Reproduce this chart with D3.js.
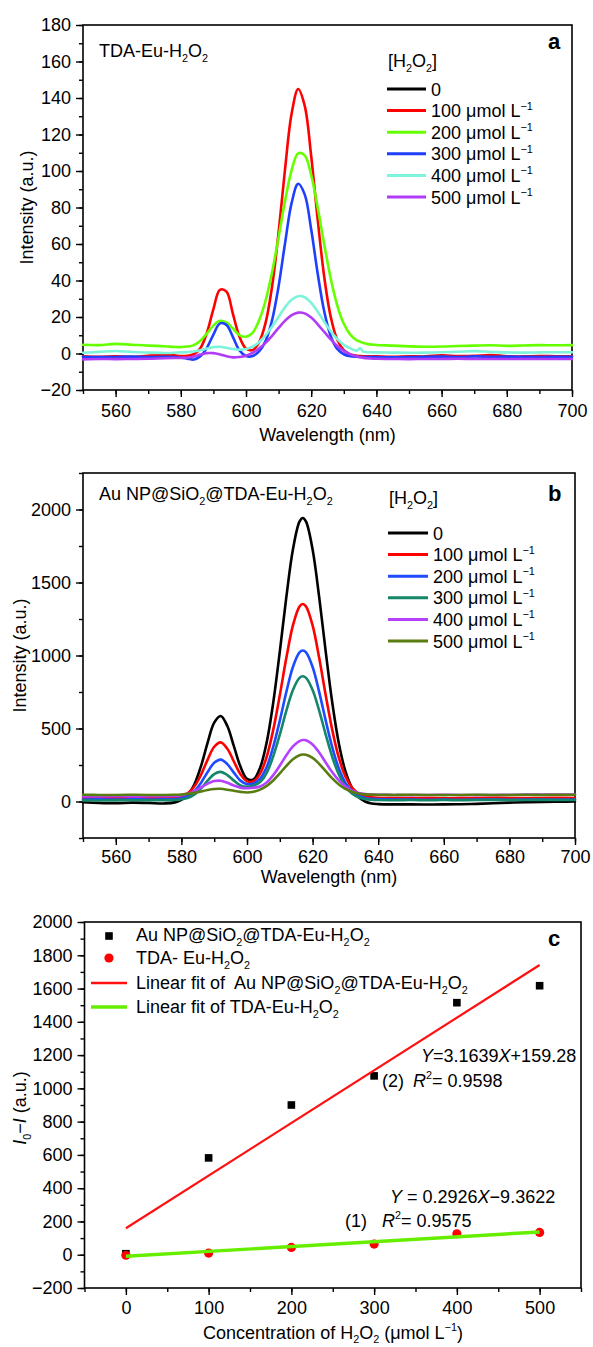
<!DOCTYPE html>
<html>
<head>
<meta charset="utf-8">
<script src="https://cdn.jsdelivr.net/npm/d3@7"></script>
<style>
  html, body { margin: 0; padding: 0; background: #fff; }
  svg { display: block; }
  text { font-family: "Liberation Sans", Arial, Helvetica, sans-serif; fill: #000; white-space: pre; }
</style>
</head>
<body>
<svg id="fig" width="593" height="1347"></svg>
<script>
// ---------- Panel a: TDA-Eu-H2O2 emission spectra ----------
const waveA = [550,555,560,565,570,575,578,580,582,584,586,588,590,592,594,596,598,600,602,604,606,608,610,612,614,616,618,620,622,624,626,628,630,632,634,635,636,638,640,645,650,655,660,665,670,675,680,685,690,695,700];
const a100 = [-1.5,-1.8,-1.5,-1.8,-1.2,-0.8,-1.0,-1.4,-1.3,-0.4,2.9,11.3,24.3,34.9,33.9,21.6,9.2,2.7,1.85,6.1,16.8,36.7,66.4,101.4,131.5,144.9,135.8,108.2,73.3,41.9,20.0,7.5,1.8,-0.5,-1.2,-1.4,-1.5,-1.6,-1.6,-1.8,-1.5,-1.6,-1.0,-1.4,-1.3,-0.8,-1.5,-1.6,-1.4,-1.5,-1.5];
const a200 = [4.8,4.6,5.3,4.8,4.3,4.0,3.6,3.5,3.8,4.6,7.0,10.9,15.3,17.9,17.0,13.7,10.1,9.2,11.3,18.1,28.9,44.5,63.7,83.8,100.5,109.7,108.6,97.7,79.9,59.7,41.0,26.3,16.3,10.3,7.2,6.5,5.8,5.0,4.7,4.3,3.9,3.7,3.8,4.1,4.3,4.5,4.2,4.4,4.6,4.5,4.6];
const a300 = [-1.8,-2.0,-1.9,-1.7,-2.0,-1.8,-2.0,-2.3,-2.8,-3.3,-1.5,3.1,10.4,16.5,15.7,9.0,1.7,-1.4,-1.4,1.2,6.8,18.2,36.9,60.7,82.5,93.0,87.2,67.9,43.7,23.0,9.5,2.5,-0.4,-1.5,-1.8,-1.9,-1.9,-2.0,-2.0,-2.1,-2.0,-1.8,-1.7,-1.9,-1.6,-1.8,-1.7,-1.8,-1.9,-1.8,-1.8];
const a400 = [0.4,0.9,1.4,0.8,0.5,0.3,0.4,0.6,0.7,1.05,1.75,2.7,3.5,3.7,3.1,2.5,2.1,2.5,3.7,6.2,9.9,14.7,20.1,25.4,29.5,31.4,30.8,27.7,22.9,17.4,12.2,7.9,4.8,2.8,1.6,2.8,1.0,0.7,0.6,0.5,0.4,0.5,0.7,1.0,1.3,0.9,0.6,0.5,0.6,0.7,0.7];
const a500 = [-3.2,-3.0,-3.1,-3.0,-2.9,-2.6,-2.5,-2.4,-2.2,-1.6,-0.6,0.2,0.2,-0.5,-1.5,-2.1,-1.9,-1.2,0.3,2.7,5.8,9.7,14.0,18.0,21.0,22.4,22.0,19.7,16.0,11.8,7.7,4.1,1.4,-0.5,-1.7,-2.1,-2.4,-2.7,-2.9,-3.0,-3.1,-3.0,-3.0,-2.9,-3.0,-3.0,-3.0,-3.0,-3.0,-3.0,-3.0];

// ---------- Panel b: Au NP@SiO2@TDA-Eu-H2O2 emission spectra ----------
const waveB = [550,555,560,565,570,575,578,580,582,584,586,588,590,592,594,596,598,600,602,604,606,608,610,612,614,616,617,618,620,622,624,626,628,630,632,634,636,638,640,645,650,655,660,665,670,675,680,685,690,695,700];
const b0   = [-5,-10,-12,-8,-10,-13,-6,11,47,120,244,403,540,586,517,379,239,155,151,232,405,677,1026,1401,1726,1917,1942,1917,1726,1401,1026,676,398,208,94,30,0,-14,-18,-20,-20,-21,-20,-19,-16,-12,-8,-5,-3,-1,0];
const b100 = [24,22,25,26,24,25,28,36,57,104,184,287,375,405,361,274,187,138,139,191,306,491,728,984,1206,1336,1353,1336,1206,984,728,489,300,172,96,56,37,29,26,24,23,24,22,23,24,25,24,23,24,25,24];
const b200 = [14,15,13,15,14,15,17,23,38,72,129,202,265,287,256,198,143,119,124,156,236,375,554,751,921,1021,1034,1021,921,751,554,371,226,128,70,39,24,18,16,14,13,12,13,12,13,14,12,13,14,13,13];
const b300 = [8,7,8,9,8,9,10,15,25,49,90,143,188,203,181,143,110,101,110,133,196,310,458,622,764,847,858,847,764,622,458,305,185,103,55,29,17,12,10,9,10,9,10,9,10,11,10,10,11,10,10];
const b400 = [34,35,36,35,36,37,38,43,54,72,97,122,140,142,128,110,95,91,94,103,131,181,246,317,378,414,421,419,391,336,267,200,144,102,75,59,51,47,46,45,44,45,46,45,44,45,46,47,48,48,48];
const b500 = [46,45,45,46,45,45,46,48,52,59,69,79,86,87,81,73,66,62,67,81,107,144,192,244,289,317,322,320,299,258,208,158,117,86,67,55,49,47,46,45,46,45,44,45,46,45,45,46,45,46,46];

// ---------- Panel c: I0 - I versus H2O2 concentration ----------
const concC = [0, 100, 200, 300, 400, 500];
const auNP  = [6, 582, 900, 1075, 1515, 1617];
const tdaEu = [-3, 10, 44, 64, 126, 134];
const fitAu  = [3.1639, 159.28];   // slope, intercept
const fitTda = [0.2926, -9.3622];

// ---------- labels ----------
const concLabels = ["0", "100 μmol L^{−1}", "200 μmol L^{−1}", "300 μmol L^{−1}", "400 μmol L^{−1}", "500 μmol L^{−1}"];
const colorsA = ["#000000", "#ff0000", "#66ff00", "#1f3fff", "#7df3db", "#b13cf5"];
const colorsB = ["#000000", "#ff0000", "#1e4bff", "#14866a", "#b540ff", "#5a7d12"];
const waveTicks = [560, 580, 600, 620, 640, 660, 680, 700];
const yTicksA = [-20, 0, 20, 40, 60, 80, 100, 120, 140, 160, 180];
const yTicksB = [0, 500, 1000, 1500, 2000];
const xTicksC = [0, 100, 200, 300, 400, 500];
const yTicksC = [-200, 0, 200, 400, 600, 800, 1000, 1200, 1400, 1600, 1800, 2000];

const svg = d3.select("#fig");
const FS = 18;

// Text with _{sub}, ^{sup} and *italic* markup, built from tspans
function richText(g, x, y, str, o = {}) {
  const fs = o.size || FS;
  const t = g.append("text").attr("x", x).attr("y", y).attr("font-size", fs);
  if (o.anchor) t.attr("text-anchor", o.anchor);
  if (o.weight) t.attr("font-weight", o.weight);
  const subShift = o.subShift != null ? o.subShift : 0.3;
  const re = /(_\{[^}]*\}|\^\{[^}]*\}|\*[^*]*\*)/g;
  let shift = 0;
  str.split(re).filter(s => s && s.length).forEach(s => {
    let txt = s, dy = 0, size = null, italic = false;
    if (s.startsWith("_{")) { txt = s.slice(2, -1); dy = fs * subShift; size = fs * 0.6; }
    else if (s.startsWith("^{")) { txt = s.slice(2, -1); dy = -fs * 0.42; size = fs * 0.6; }
    else if (s.startsWith("*")) { txt = s.slice(1, -1); italic = true; }
    const ts = t.append("tspan").text(txt).attr("dy", dy - shift);
    shift = dy;
    if (size) ts.attr("font-size", size);
    if (italic) ts.attr("font-style", "italic");
  });
  return t;
}

function rotatedLabel(cx, cy, str) {
  const g = svg.append("g").attr("transform", `translate(${cx},${cy}) rotate(-90)`);
  richText(g, 0, 6.5, str, { anchor: "middle" });
}

// Axes with outward major + minor ticks and a closed frame
function frame(x, y, opt) {
  const g = svg.append("g");
  const [x0, x1] = x.range(), [y0, y1] = y.range();
  g.append("g").attr("transform", `translate(0,${y0})`)
    .call(d3.axisBottom(x).tickValues(opt.xTicks).tickSize(7).tickPadding(opt.xPad)
      .tickFormat(d3.format("d")));
  g.append("g").attr("transform", `translate(0,${y0})`)
    .call(d3.axisBottom(x).tickValues(opt.xMinor).tickSize(4).tickFormat(""));
  g.append("g").attr("transform", `translate(${x0},0)`)
    .call(d3.axisLeft(y).tickValues(opt.yTicks).tickSize(7).tickPadding(5)
      .tickFormat(d3.format("d")));
  g.append("g").attr("transform", `translate(${x0},0)`)
    .call(d3.axisLeft(y).tickValues(opt.yMinor).tickSize(4).tickFormat(""));
  g.selectAll(".domain").remove();
  g.selectAll(".tick line").attr("stroke", "#000").attr("stroke-width", 1.4);
  g.selectAll(".tick text").attr("font-size", FS)
    .attr("font-family", '"Liberation Sans", Arial, sans-serif').attr("fill", "#000");
  g.append("rect").attr("x", x0).attr("y", y1).attr("width", x1 - x0).attr("height", y0 - y1)
    .attr("fill", "none").attr("stroke", "#000").attr("stroke-width", 1.6);
  return g;
}

function spectra(x, y, wave, series, colors, width) {
  const line = d3.line().x((d, i) => x(wave[i])).y(d => y(d)).curve(d3.curveCatmullRom.alpha(0.5));
  const g = svg.append("g");
  series.forEach(s => {
    g.append("path").attr("d", line(s.values)).attr("fill", "none")
      .attr("stroke", colors[s.k]).attr("stroke-width", width)
      .attr("stroke-linejoin", "round").attr("stroke-linecap", "round");
  });
}

function concLegend(hx, hy, lx0, lx1, tx, ly, colors) {
  richText(svg, hx, hy, "[H_{2}O_{2}]");
  concLabels.forEach((lab, i) => {
    const yy = ly + i * 21.6;
    svg.append("line").attr("x1", lx0).attr("x2", lx1).attr("y1", yy).attr("y2", yy)
      .attr("stroke", colors[i]).attr("stroke-width", 3);
    richText(svg, tx, yy + 6.5, lab);
  });
}

// ===== Panel a =====
const xA = d3.scaleLinear([550, 700], [83, 572]);
const yA = d3.scaleLinear([-20, 180], [390, 25]);
frame(xA, yA, { xTicks: waveTicks, xMinor: d3.range(550, 701, 10), xPad: 7,
  yTicks: yTicksA, yMinor: d3.range(-20, 181, 10) });
spectra(xA, yA, waveA, [
  { k: 1, values: a100 }, { k: 2, values: a200 }, { k: 3, values: a300 },
  { k: 4, values: a400 }, { k: 5, values: a500 }], colorsA, 2.6);
richText(svg, 99, 57, "TDA-Eu-H_{2}O_{2}");
richText(svg, 548, 49, "a", { size: 22, weight: "bold" });
concLegend(388, 67, 387, 426, 431, 89, colorsA);
rotatedLabel(26, 207.5, "Intensity (a.u.)");
richText(svg, 327.5, 441, "Wavelength (nm)", { anchor: "middle" });

// ===== Panel b =====
const xB = d3.scaleLinear([550, 700], [83, 575]);
const yB = d3.scaleLinear([-250, 2250], [838, 473]);
frame(xB, yB, { xTicks: waveTicks, xMinor: d3.range(550, 701, 10), xPad: 5,
  yTicks: yTicksB, yMinor: d3.range(-250, 2251, 250) });
spectra(xB, yB, waveB, [
  { k: 0, values: b0 }, { k: 1, values: b100 }, { k: 2, values: b200 },
  { k: 3, values: b300 }, { k: 4, values: b400 }, { k: 5, values: b500 }], colorsB, 2.6);
richText(svg, 99, 500, "Au NP@SiO_{2}@TDA-Eu-H_{2}O_{2}");
richText(svg, 548, 501, "b", { size: 22, weight: "bold" });
concLegend(389, 504, 388, 428, 433, 533, colorsB);
rotatedLabel(19, 655.5, "Intensity (a.u.)");
richText(svg, 329, 883, "Wavelength (nm)", { anchor: "middle" });

// ===== Panel c =====
const xC = d3.scaleLinear([-50, 550], [84.5, 581]);
const yC = d3.scaleLinear([-200, 2000], [1288, 922]);
frame(xC, yC, { xTicks: xTicksC, xMinor: d3.range(-50, 551, 50), xPad: 6,
  yTicks: yTicksC, yMinor: d3.range(-200, 2001, 100) });

const gc = svg.append("g");
gc.selectAll("rect.pt").data(concC).join("rect").attr("class", "pt")
  .attr("x", (d) => xC(d) - 3.8).attr("y", (d, i) => yC(auNP[i]) - 3.8)
  .attr("width", 7.6).attr("height", 7.6).attr("fill", "#000");
gc.selectAll("circle.pt").data(concC).join("circle").attr("class", "pt")
  .attr("cx", (d) => xC(d)).attr("cy", (d, i) => yC(tdaEu[i])).attr("r", 4.6).attr("fill", "#ff0000");

const fitLine = (coef) => d3.line().x(d => xC(d)).y(d => yC(coef[0] * d + coef[1]));
const fitX = [concC[0], concC[concC.length - 1]];
gc.append("path").attr("d", fitLine(fitAu)(fitX)).attr("stroke", "#ff1010")
  .attr("stroke-width", 2.2).attr("fill", "none");
gc.append("path").attr("d", fitLine(fitTda)(fitX)).attr("stroke", "#66ee00")
  .attr("stroke-width", 3.4).attr("fill", "none");

// legend
const legC = [936, 958, 983, 1007];
svg.append("rect").attr("x", 109 - 3.8).attr("y", legC[0] - 3.8).attr("width", 7.6).attr("height", 7.6).attr("fill", "#000");
svg.append("circle").attr("cx", 109).attr("cy", legC[1]).attr("r", 4.6).attr("fill", "#ff0000");
svg.append("line").attr("x1", 91).attr("x2", 127).attr("y1", legC[2]).attr("y2", legC[2]).attr("stroke", "#ff1010").attr("stroke-width", 2.5);
svg.append("line").attr("x1", 91).attr("x2", 127).attr("y1", legC[3]).attr("y2", legC[3]).attr("stroke", "#66ee00").attr("stroke-width", 3.5);
richText(svg, 136, legC[0] + 5, "Au NP@SiO_{2}@TDA-Eu-H_{2}O_{2}");
richText(svg, 136, legC[1] + 6, "TDA- Eu-H_{2}O_{2}");
richText(svg, 136, legC[2] + 6, "Linear fit of  Au NP@SiO_{2}@TDA-Eu-H_{2}O_{2}");
richText(svg, 136, legC[3] + 6, "Linear fit of TDA-Eu-H_{2}O_{2}");
richText(svg, 548, 946, "c", { size: 22, weight: "bold" });

// fit annotations
richText(svg, 421, 1062, `*Y*=${fitAu[0]}*X*+${fitAu[1]}`);
richText(svg, 382, 1087, "(2)");
richText(svg, 413, 1087, "*R*^{2}= 0.9598");
richText(svg, 390, 1203, `*Y* = ${fitTda[0]}*X*−${Math.abs(fitTda[1])}`);
richText(svg, 345, 1227, "(1)");
richText(svg, 382, 1227, "*R*^{2}= 0.9575");

rotatedLabel(19, 1108, "*I*_{0}−*I* (a.u.)");
richText(svg, 333, 1339, "Concentration of H_{2}O_{2} (μmol L^{−1})", { anchor: "middle", subShift: 0.22 });
</script>
</body>
</html>
